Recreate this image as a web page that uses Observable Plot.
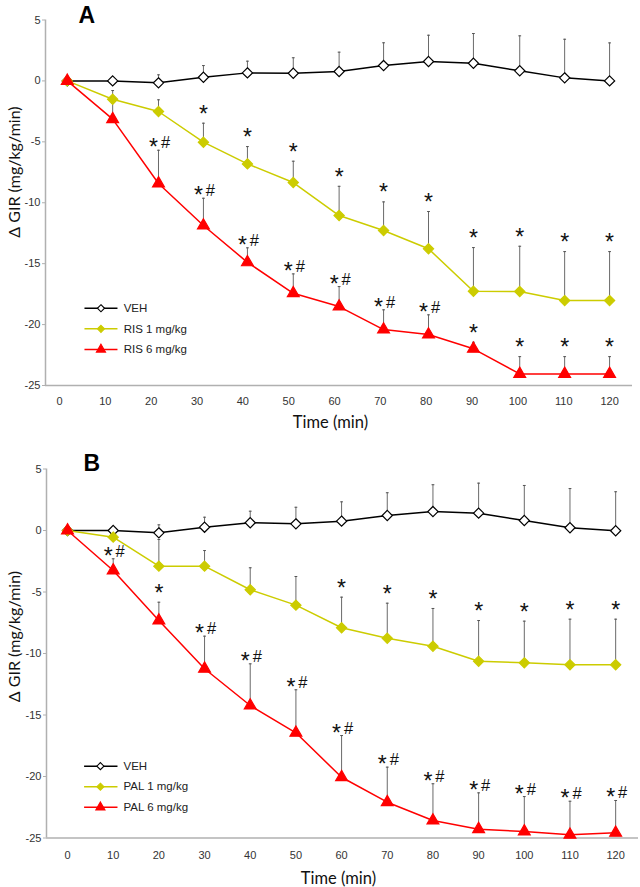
<!DOCTYPE html>
<html><head><meta charset="utf-8">
<script src="https://cdn.jsdelivr.net/npm/d3@7"></script>
<script src="https://cdn.jsdelivr.net/npm/@observablehq/plot@0.6"></script>
<style>
body{margin:0;background:#fff;}
#chart{width:640px;}
#chart svg{display:block;}
</style></head><body><div id="chart"></div>
<script>
// ---- tick labels ----
const ticksX = [0, 10, 20, 30, 40, 50, 60, 70, 80, 90, 100, 110, 120];
const ticksY = [5, 0, -5, -10, -15, -20, -25];

// ---- Panel A (risperidone) ----
const timeA = [1.7, 11.6, 21.6, 31.4, 41, 51, 61, 70.7, 80.5, 90.3, 100.4, 110.2, 120];
const vehA = [0, 0, -0.16, 0.3, 0.66, 0.63, 0.77, 1.26, 1.59, 1.45, 0.83, 0.25, 0.0];
const vehAErr = [0, 0, 0.66, 0.96, 0.96, 1.27, 1.59, 1.87, 2.16, 2.44, 2.87, 3.17, 3.12];
const ris1A = [0, -1.5, -2.51, -5.03, -6.81, -8.34, -11.05, -12.28, -13.78, -17.27, -17.29, -18.03, -18.03];
const ris1AErr = [0, 0.71, 0.96, 1.56, 1.42, 1.75, 2.4, 2.35, 3.06, 3.59, 3.72, 4.02, 4.02];
const ris1ASig = ["", "", "", "*", "*", "*", "*", "*", "*", "*", "*", "*", "*"];
const ris6A = [0, -3.14, -8.42, -11.87, -14.89, -17.43, -18.52, -20.41, -20.82, -21.99, -24.05, -24.05, -24.05];
const ris6AErr = [0, 1.3, 2.73, 2.24, 1.19, 1.59, 1.64, 1.62, 1.62, 0.54, 1.42, 1.42, 1.42];
const ris6ASig = ["", "", "*#", "*#", "*#", "*#", "*#", "*#", "*#", "*", "*", "*", "*"];
const legendLabelsA = ["VEH", "RIS 1 mg/kg", "RIS 6 mg/kg"];

// ---- Panel B (paliperidone) ----
const timeB = [0, 10, 20, 30, 40, 50, 60, 70, 80, 90, 100, 110, 120];
const vehB = [0, 0, -0.19, 0.27, 0.63, 0.54, 0.76, 1.22, 1.54, 1.41, 0.81, 0.22, -0.02];
const vehBErr = [0, 0, 0.65, 0.81, 0.94, 1.35, 1.57, 1.85, 2.18, 2.44, 2.85, 3.19, 3.17];
const pal1B = [0, -0.54, -2.9, -2.9, -4.82, -6.07, -7.91, -8.76, -9.41, -10.63, -10.76, -10.92, -10.92];
const pal1BErr = [0, 0, 2.17, 1.27, 1.79, 2.33, 2.49, 2.85, 3.07, 3.31, 3.39, 3.71, 3.71];
const pal1BSig = ["", "", "", "", "", "", "*", "*", "*", "*", "*", "*", "*"];
const pal6B = [0, -3.25, -7.32, -11.24, -14.23, -16.45, -20.06, -22.09, -23.58, -24.28, -24.47, -24.74, -24.58];
const pal6BErr = [0, 0.95, 1.49, 2.65, 3.39, 3.5, 3.39, 2.85, 2.99, 2.95, 2.84, 2.73, 2.63];
const pal6BSig = ["", "*#", "*", "*#", "*#", "*#", "*#", "*#", "*#", "*#", "*#", "*#", "*#"];
const legendLabelsB = ["VEH", "PAL 1 mg/kg", "PAL 6 mg/kg"];

const yTitle = "\u0394 GIR (mg/kg/min)";
const xTitle = "Time (min)";

// ---- styles ----
const seriesStyle = [
  {line: "#000000", fill: "#ffffff", stroke: "#000000", symbol: "diamond2", r: 4.6, lr: 3.2},
  {line: "#cccc00", fill: "#cccc00", stroke: "#cccc00", symbol: "diamond2", r: 4.6, lr: 3.2},
  {line: "#ff0000", fill: "#ff0000", stroke: "#ff0000", symbol: "triangle", r: 4.4, lr: 3.4}
];
const capSymbol = {draw(ctx, size) { const r = Math.sqrt(size / Math.PI); ctx.moveTo(-r, 0); ctx.lineTo(r, 0); }};
const titleFont = "Lato, 'Open Sans', sans-serif";
const sigFont = "'Liberation Sans', Arial, sans-serif";

function rowsOf(time, values, err, sig) {
  return time.map((t, i) => ({t, v: values[i], err: err[i], sig: sig ? sig[i] : ""}));
}

function panel(cfg) {
  const marks = [];
  const [x0] = cfg.xDomain;
  // axis lines
  marks.push(Plot.ruleY([-25], {stroke: "#b0b0b0", strokeWidth: 1.5}));
  marks.push(Plot.ruleX([x0], {stroke: "#b0b0b0", strokeWidth: 1.5}));
  marks.push(Plot.axisY({ticks: ticksY, tickSize: 3, tickPadding: 2, stroke: "#b0b0b0", fill: "#333", fontSize: 11, tickFormat: d => String(d), label: null}));
  marks.push(Plot.axisX({ticks: ticksX, tickSize: 0, tickPadding: cfg.xTickPad, fill: "#333", fontSize: 11, tickFormat: d => String(d), label: null}));
  const rowsList = cfg.series.map(s => rowsOf(cfg.time, s.values, s.err, s.sig));
  // error bars
  rowsList.forEach(rows => {
    const e = rows.filter(d => d.err > 0);
    marks.push(Plot.ruleX(e, {x: "t", y1: "v", y2: d => d.v + d.err, stroke: "#6a6a6a", strokeWidth: 1}));
    marks.push(Plot.dot(e, {x: "t", y: d => d.v + d.err, symbol: capSymbol, r: 1.4, stroke: "#555", fill: "none", strokeWidth: 1}));
  });
  // lines
  rowsList.forEach((rows, i) => {
    marks.push(Plot.line(rows, {x: "t", y: "v", stroke: seriesStyle[i].line, strokeWidth: 1.5}));
  });
  // markers
  rowsList.forEach((rows, i) => {
    const st = seriesStyle[i];
    marks.push(Plot.dot(rows, {x: "t", y: "v", symbol: st.symbol, r: st.r, fill: st.fill, stroke: st.stroke, strokeWidth: 1.2}));
  });
  // significance marks: "*" alone, or "*" followed by "#"
  rowsList.forEach(rows => {
    const single = rows.filter(d => d.sig === "*");
    const dbl = rows.filter(d => d.sig === "*#");
    const top = d => d.v + d.err;
    marks.push(Plot.text(single, {x: "t", y: top, text: "sig", dy: -1.5, lineAnchor: "bottom", fontSize: 23, fill: "#111", fontFamily: sigFont}));
    marks.push(Plot.text(dbl, {x: "t", y: top, text: d => d.sig.charAt(0), dx: -5, dy: 5, lineAnchor: "bottom", fontSize: 23, fill: "#111", fontFamily: sigFont}));
    marks.push(Plot.text(dbl, {x: "t", y: top, text: d => d.sig.slice(1), dx: 7, dy: -2, lineAnchor: "bottom", fontSize: 16.5, fill: "#111", fontFamily: sigFont}));
  });
  // legend
  const lg = cfg.legend;
  const legendRows = cfg.series.map((s, i) => ({label: s.label, i, y: lg.y0 - i * lg.step}));
  legendRows.forEach(d => {
    const st = seriesStyle[d.i];
    marks.push(Plot.link([d], {x1: () => lg.x1, x2: () => lg.x2, y1: "y", y2: "y", stroke: st.line, strokeWidth: 1.5}));
    marks.push(Plot.dot([d], {x: () => lg.xm, y: "y", symbol: st.symbol, r: st.lr, fill: st.fill, stroke: st.stroke, strokeWidth: 1.1}));
  });
  marks.push(Plot.text(legendRows, {x: () => lg.xt, y: "y", text: "label", textAnchor: "start", fontSize: 11.5, fill: "#222"}));
  // titles
  marks.push(Plot.text([yTitle], {frameAnchor: "left", text: d => d, rotate: -90, textAnchor: "middle", lineAnchor: "middle", dx: cfg.yTitleDx, dy: cfg.yTitleDy, fontSize: 16, fill: "#111", fontFamily: titleFont}));
  marks.push(Plot.text([xTitle], {frameAnchor: "bottom", text: d => d, textAnchor: "middle", lineAnchor: "middle", dx: cfg.xTitleDx, dy: cfg.xTitleDy, fontSize: 16.5, fill: "#111", fontFamily: titleFont}));
  marks.push(Plot.text([cfg.letter], {frameAnchor: "top-left", text: d => d, dx: cfg.letterDx, dy: cfg.letterDy, lineAnchor: "bottom", textAnchor: "start", fontSize: 23, fontWeight: "bold", fill: "#000"}));

  return Plot.plot({
    width: 640,
    height: cfg.height,
    marginTop: cfg.marginTop,
    marginBottom: cfg.marginBottom,
    marginLeft: cfg.marginLeft,
    marginRight: cfg.marginRight,
    x: {domain: cfg.xDomain, label: null},
    y: {domain: [-25, 5], label: null},
    style: {fontFamily: "'Liberation Sans', Arial, sans-serif", fontSize: "11px", background: "#fff", color: "#333", overflow: "visible"},
    marks
  });
}

const chart = document.getElementById("chart");
chart.appendChild(panel({
  letter: "A",
  time: timeA,
  series: [
    {values: vehA, err: vehAErr, sig: null, label: legendLabelsA[0]},
    {values: ris1A, err: ris1AErr, sig: ris1ASig, label: legendLabelsA[1]},
    {values: ris6A, err: ris6AErr, sig: ris6ASig, label: legendLabelsA[2]}
  ],
  height: 443, marginTop: 19.5, marginBottom: 58, marginLeft: 45, marginRight: 8,
  xDomain: [-3.05, 125], xTickPad: 12,
  yTitleDx: -31, yTitleDy: -30.75, xTitleDx: -8.5, xTitleDy: 37,
  letterDx: 33, letterDy: 2.5,
  legend: {x1: 5.45, x2: 12.65, xm: 9.05, xt: 14.0, y0: -18.66, step: 1.69}
}));
chart.appendChild(panel({
  letter: "B",
  time: timeB,
  series: [
    {values: vehB, err: vehBErr, sig: null, label: legendLabelsB[0]},
    {values: pal1B, err: pal1BErr, sig: pal1BSig, label: legendLabelsB[1]},
    {values: pal6B, err: pal6BErr, sig: pal6BSig, label: legendLabelsB[2]}
  ],
  height: 444, marginTop: 25.5, marginBottom: 49.5, marginLeft: 46, marginRight: 2,
  xDomain: [-4.6, 125], xTickPad: 13,
  yTitleDx: -32, yTitleDy: -17, xTitleDx: -4, xTitleDy: 40.5,
  letterDx: 37, letterDy: 1.5,
  legend: {x1: 3.63, x2: 10.94, xm: 7.2, xt: 12.26, y0: -19.16, step: 1.67}
}));
</script></body></html>
